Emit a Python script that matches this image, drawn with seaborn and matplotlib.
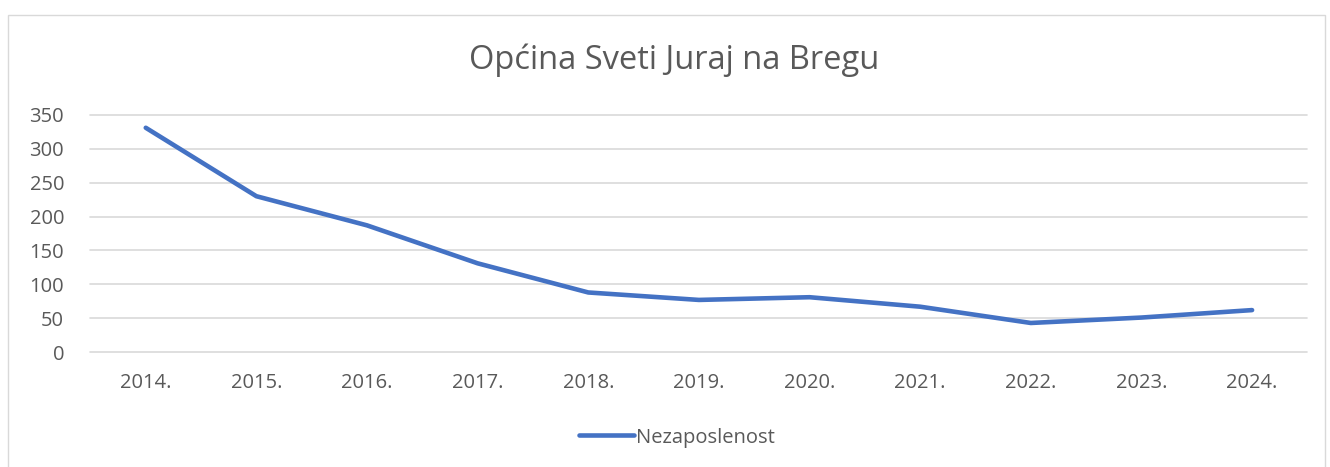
import pandas as pd
import matplotlib.pyplot as plt
import seaborn as sns
from matplotlib.patches import Rectangle

# data
years = ['2014.', '2015.', '2016.', '2017.', '2018.', '2019.', '2020.', '2021.', '2022.', '2023.', '2024.']
nezaposlenost = [331, 230, 187, 131, 88, 77, 81, 67, 43, 51, 62]

df = pd.DataFrame({'Godina': years, 'Nezaposlenost': nezaposlenost})

sns.set_theme(style='white')
plt.rcParams['font.family'] = ['Open Sans', 'DejaVu Sans']
text_col = '#595959'

fig = plt.figure(figsize=(13.3, 4.67), dpi=100)
ax = fig.add_axes([0.068, 0.246, 0.915, 0.508])

sns.lineplot(data=df, x='Godina', y='Nezaposlenost', sort=False, color='#4472C4',
             linewidth=3.3, solid_capstyle='round', label='Nezaposlenost', ax=ax)

ax.set_ylim(0, 350)
ax.set_xlim(-0.5, len(years) - 0.5)
ax.set_yticks(range(0, 351, 50))
ax.yaxis.grid(True, color='#D9D9D9', linewidth=1.2)
for gl in ax.yaxis.get_gridlines():
    gl.set_clip_on(False)
ax.set_axisbelow(True)
for s in ax.spines.values():
    s.set_visible(False)
ax.tick_params(axis='both', length=0, labelsize=14.5, labelcolor=text_col)
ax.tick_params(axis='x', pad=15)
ax.tick_params(axis='y', pad=19)
ax.set_xlabel('')
ax.set_ylabel('')

fig.text(0.507, 0.872, 'Općina Sveti Juraj na Bregu', ha='center', va='center',
         fontsize=23.5, color=text_col)

ax.legend(loc='center', bbox_to_anchor=(0.482, -0.36), frameon=False,
          fontsize=14.5, labelcolor=text_col, handlelength=2.7, handletextpad=0.1)

fig.patches.append(Rectangle((0.006, -0.01), 0.99, 0.977, transform=fig.transFigure,
                             fill=False, edgecolor='#D9D9D9', linewidth=1))

fig.savefig('out.png', dpi=100)
